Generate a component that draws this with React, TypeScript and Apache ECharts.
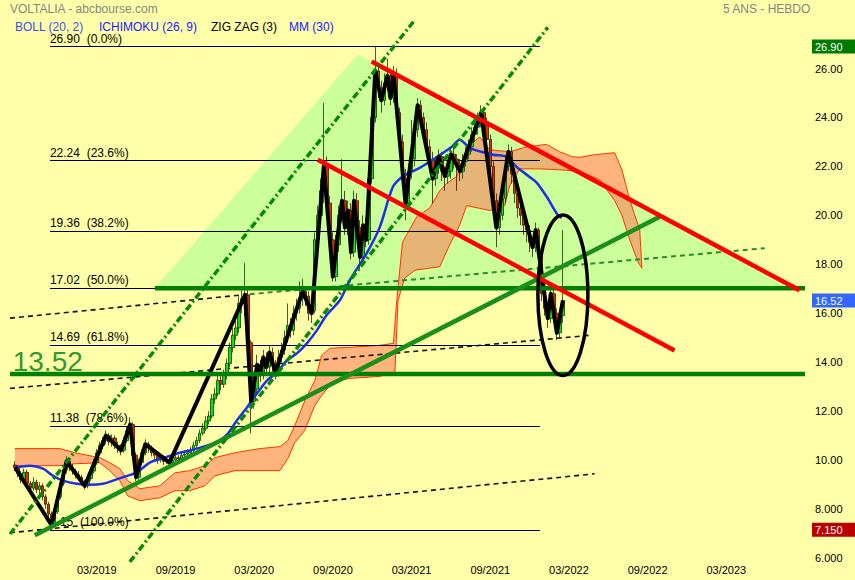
import React, { useEffect, useRef } from "react";
import * as echarts from "echarts";

const FONT = '"Liberation Sans", Arial, sans-serif';

// ---- axes ----
const xTickWeeks = [26, 52, 78, 104, 130, 156, 182, 208, 234];
const xTickLabels = ["03/2019", "09/2019", "03/2020", "09/2020", "03/2021", "09/2021", "03/2022", "09/2022", "03/2023"];
const yTickValues = [6, 8, 10, 12, 14, 16, 18, 20, 22, 24, 26];

// ---- weekly candles (week index from firstWeek) ----
const firstWeek = -1;
const firstOpen = 9.8;
const closes = [
  9.70, 9.45, 9.20, 9.50, 9.05, 8.85, 9.10, 8.80, 8.95, 8.50,
  8.20, 7.80, 7.35, 7.90, 8.50, 9.05, 9.60, 9.95, 9.70, 9.55,
  9.40, 9.30, 9.10, 8.95, 9.25, 9.55, 9.90, 10.30, 10.60, 10.80,
  11.00, 10.75, 10.90, 10.60, 10.50, 10.40, 10.80, 11.20, 11.45, 10.20,
  9.30, 9.90, 10.30, 10.65, 10.50, 10.30, 10.20, 10.00, 10.10, 9.95,
  10.00, 9.90, 10.00, 10.10, 10.05, 10.20, 10.25, 10.30, 10.40, 10.60,
  10.80, 11.10, 11.30, 11.60, 11.80, 12.50, 12.70, 13.25, 13.10, 13.50,
  13.95, 14.60, 15.10, 15.40, 16.40, 16.60, 16.75, 14.80, 12.40, 12.90,
  13.90, 13.50, 14.20, 13.80, 14.40, 13.90, 13.60, 14.20, 14.50, 15.00,
  15.50, 15.30, 16.00, 16.20, 16.60, 16.90, 16.70, 16.00, 16.10, 19.00,
  20.00, 21.00, 22.00, 20.50, 19.00, 17.50, 18.80, 20.00, 20.60, 19.50,
  20.20, 18.50, 20.60, 19.50, 18.30, 19.60, 19.00, 21.50, 24.00, 25.90,
  25.20, 24.70, 25.40, 25.70, 24.80, 25.80, 24.20, 23.00, 21.50, 20.50,
  21.80, 22.30, 23.50, 24.50, 24.00, 23.50, 22.80, 22.30, 21.50, 22.00,
  22.40, 21.80, 21.60, 21.80, 22.50, 22.30, 22.00, 21.80, 22.20, 22.50,
  22.80, 23.30, 23.60, 23.90, 24.20, 23.80, 23.10, 22.00, 20.60, 19.50,
  20.00, 20.70, 22.00, 22.60, 21.70, 20.90, 20.30, 20.00, 19.60, 19.40,
  18.90, 18.70, 19.40, 18.40, 16.80, 16.20, 15.80, 16.80, 16.00, 15.20,
  15.90, 16.52,
];
const lows = [
  9.55, 9.30, 9.05, 9.10, 8.90, 8.60, 8.75, 8.65, 8.60, 8.35,
  8.00, 7.60, 7.15, 7.25, 7.80, 8.40, 8.95, 9.45, 9.55, 9.40,
  9.25, 9.15, 8.95, 8.80, 8.85, 9.15, 9.45, 9.80, 10.20, 10.45,
  10.65, 10.60, 10.55, 10.45, 10.30, 10.20, 10.30, 10.70, 11.05, 10.05,
  9.15, 9.20, 9.80, 10.20, 10.30, 10.15, 10.00, 9.85, 9.90, 9.80,
  9.85, 9.75, 9.80, 9.90, 9.90, 9.95, 10.05, 10.10, 10.15, 10.30,
  10.45, 10.70, 11.00, 11.20, 11.45, 11.70, 12.30, 12.60, 12.85, 12.95,
  13.30, 13.80, 14.40, 14.90, 15.20, 16.00, 15.90, 14.50, 11.10, 12.10,
  12.70, 13.20, 13.30, 13.50, 13.60, 13.60, 13.30, 13.40, 14.00, 14.30,
  14.80, 15.00, 15.10, 15.70, 16.00, 16.30, 16.30, 15.70, 15.60, 16.00,
  18.70, 19.60, 20.50, 20.20, 18.70, 17.30, 17.30, 18.50, 19.70, 19.20,
  19.20, 18.20, 18.30, 19.10, 17.80, 18.10, 18.70, 18.80, 21.30, 23.80,
  24.80, 24.20, 24.50, 25.10, 24.50, 24.60, 23.90, 22.60, 21.20, 19.80,
  20.30, 21.50, 22.00, 23.20, 23.60, 23.10, 22.40, 21.90, 20.50, 21.20,
  21.70, 21.40, 21.00, 21.30, 21.50, 21.90, 21.00, 21.40, 21.50, 22.00,
  22.30, 22.60, 23.00, 23.30, 23.60, 23.40, 22.80, 21.70, 20.20, 18.70,
  19.20, 19.80, 20.50, 21.80, 21.30, 20.50, 19.90, 19.60, 19.20, 18.90,
  18.50, 18.30, 18.50, 18.00, 16.50, 15.90, 15.40, 15.60, 15.70, 14.90,
  15.00, 15.60,
];
const highs = [
  9.95, 9.80, 9.55, 9.65, 9.60, 9.15, 9.30, 9.20, 9.10, 9.05,
  8.60, 8.30, 7.90, 8.05, 8.65, 9.20, 9.75, 10.15, 10.05, 9.85,
  9.65, 9.55, 9.40, 9.20, 9.40, 9.70, 10.05, 10.45, 10.75, 10.95,
  11.20, 11.10, 11.05, 11.00, 10.75, 10.65, 10.95, 11.40, 11.75, 11.55,
  10.30, 10.05, 10.45, 10.85, 10.75, 10.60, 10.40, 10.30, 10.25, 10.20,
  10.15, 10.10, 10.15, 10.25, 10.20, 10.35, 10.40, 10.45, 10.55, 10.75,
  10.95, 11.25, 11.50, 11.80, 12.00, 12.70, 12.95, 13.45, 13.50, 13.70,
  14.15, 14.80, 15.40, 15.70, 16.70, 17.00, 18.05, 17.00, 14.90, 13.40,
  14.30, 14.10, 14.50, 14.40, 14.70, 14.60, 14.10, 14.50, 14.80, 15.30,
  16.40, 15.80, 16.30, 16.60, 17.30, 17.40, 17.10, 16.90, 16.50, 19.30,
  20.40, 21.50, 24.60, 22.40, 20.80, 19.30, 19.20, 20.40, 22.30, 21.00,
  20.60, 20.50, 21.00, 20.90, 19.80, 20.00, 19.90, 21.80, 24.30, 26.90,
  26.20, 25.50, 25.80, 26.40, 26.00, 26.10, 26.00, 24.40, 23.30, 21.90,
  22.10, 23.90, 23.80, 24.80, 24.70, 24.20, 23.80, 23.10, 22.60, 22.40,
  22.70, 22.60, 22.00, 22.10, 22.80, 22.80, 22.50, 22.30, 22.50, 22.80,
  23.10, 23.60, 23.90, 24.20, 24.50, 24.40, 24.00, 23.30, 22.20, 20.90,
  20.40, 21.00, 22.40, 22.90, 22.80, 21.90, 21.10, 20.50, 20.20, 19.90,
  19.60, 19.10, 19.70, 19.50, 18.50, 17.00, 16.40, 17.00, 17.00, 16.20,
  16.10, 19.40,
];

// ---- indicators: [week, price] ----
const zigzag = [
  [-1, 9.7], [11, 7.35], [16, 9.95], [22, 8.95], [29, 11.0], [34, 10.4], [37, 11.45], [39, 9.3],
  [42, 10.65], [50, 9.9], [75, 16.75], [77, 12.4], [79, 13.9], [80, 13.5], [81, 14.2], [82, 13.8],
  [83, 14.4], [85, 13.6], [94, 16.9], [97, 16.0], [101, 22.0], [104, 17.5], [107, 20.6], [108, 19.5],
  [109, 20.2], [110, 18.5], [111, 20.6], [113, 18.3], [114, 19.6], [115, 19.0], [118, 25.9], [120, 24.7],
  [122, 25.7], [123, 24.8], [124, 25.8], [128, 20.5], [132, 24.5], [137, 21.5], [139, 22.4], [141, 21.6],
  [143, 22.5], [146, 21.8], [153, 24.2], [158, 19.5], [162, 22.6], [170, 18.7], [171, 19.4], [175, 15.8],
  [176, 16.8], [178, 15.2], [180, 16.52],
];
const ma30 = [
  [-1.1, 9.69], [3.9, 9.77], [8.2, 9.65], [11.5, 9.36], [14.8, 9.16], [19.4, 9.03], [23.7, 8.99],
  [28.0, 9.03], [31.3, 9.16], [34.6, 9.3], [39.2, 9.5], [43.5, 9.9], [47.8, 10.08], [53.4, 10.3],
  [56.7, 10.39], [62.3, 10.59], [66.6, 10.8], [69.3, 11.08], [72.2, 11.61], [75.6, 12.15], [78.9, 12.72],
  [82.2, 13.25], [85.5, 13.58], [88.8, 14.07], [92.1, 14.36], [95.4, 14.77], [98.7, 15.3], [101.9, 15.92],
  [106.3, 16.53], [109.6, 17.35], [115.2, 18.46], [119.5, 19.52], [123.8, 21.16], [126.8, 21.57],
  [129.4, 21.74], [132.7, 21.94], [137.0, 22.27], [143.3, 22.8], [145.9, 23.09], [149.2, 22.76],
  [156.8, 22.48], [161.4, 22.39], [164.7, 21.98], [169.0, 21.57], [171.4, 21.33], [174.7, 20.75],
  [178.3, 20.02], [179.6, 19.89],
];
const cloudTop = [
  [-1.1, 10.47], [13.8, 10.47], [18.7, 10.3], [27.0, 10.1], [30.3, 9.89], [33.6, 9.65], [36.2, 9.16],
  [40.2, 8.83], [46.8, 8.95], [51.8, 9.48], [56.7, 9.57], [61.7, 9.77], [65.0, 10.1], [71.6, 10.3],
  [79.8, 10.47], [86.5, 10.55], [89.1, 10.8], [91.4, 11.41], [94.7, 12.42], [98.0, 13.25], [100.3, 14.28],
  [103.0, 14.57], [109.6, 14.61], [119.5, 14.69], [124.0, 14.77], [125.1, 16.53], [127.0, 18.9],
  [131.7, 19.94], [136.0, 20.3], [139.3, 21.0], [141.5, 21.3], [145.0, 21.6], [148.2, 22.8], [152.5, 23.2],
  [155.8, 22.68], [162.4, 22.6], [168.0, 22.8], [174.6, 22.9], [178.9, 22.6], [183.0, 22.4], [185.6, 22.37],
  [190.5, 22.48], [197.1, 22.56], [199.5, 21.86], [202.1, 20.63], [205.4, 19.4], [206.1, 17.84],
];
const cloudBottom = [
  [-1.1, 9.77], [13.8, 9.77], [18.7, 9.85], [27.0, 9.89], [30.3, 9.57], [33.6, 9.16], [36.2, 8.54],
  [40.2, 8.34], [46.8, 8.46], [51.8, 8.75], [56.7, 8.75], [61.7, 8.95], [65.0, 9.36], [71.6, 9.57],
  [86.5, 9.57], [89.1, 10.06], [91.4, 10.71], [94.7, 11.21], [98.0, 12.23], [100.3, 12.64], [103.0, 13.05],
  [106.3, 13.25], [109.6, 13.34], [119.5, 13.42], [124.5, 13.59], [125.5, 16.5], [127.7, 17.43],
  [131.1, 17.76], [139.3, 17.9], [142.6, 18.8], [145.9, 19.6], [148.2, 20.4], [152.0, 20.3], [155.8, 20.2],
  [160.8, 20.4], [162.4, 21.2], [165.7, 21.9], [172.3, 21.9], [178.9, 21.86], [185.6, 21.8], [192.2, 21.45],
  [197.1, 20.6], [199.5, 20.0], [202.1, 19.0], [204.8, 18.1], [206.1, 17.84],
];

// ---- Fibonacci retracement ----
const fibLevels = [26.9, 22.24, 19.36, 17.02, 14.69, 11.38, 7.15];
const fibPercents = ["0.0%", "23.6%", "38.2%", "50.0%", "61.8%", "78.6%", "100.0%"];
const fibWeeks = [10.5, 172.4];

// ---- drawings: [week, price] ----
const supportLevel = 13.52;
const lastPrice = 16.52;
const highPrice = 26.9;
const lowPrice = 7.15;
const supportLine = [[-2.7, 13.52], [260, 13.52]];
const neckLine = [[45.2, 17.02], [260, 17.02]];
const fanTriangle = [[45.2, 17.02], [112.2, 26.57], [259.9, 17.02]];
const redLines = [
  [[116.8, 26.29], [258.2, 16.94]],
  [[99.0, 22.27], [216.9, 14.48]],
];
const greenLines = [[[5.5, 6.93], [212.0, 19.94]]];
const dashDotLines = [
  [[-2.7, 6.98], [130.7, 27.93]],
  [[36.9, 5.84], [175.0, 27.68]],
];
const blackDashed = [
  [[-2.7, 15.8], [76.5, 16.78]],
  [[-2.7, 12.93], [188.9, 15.1]],
  [[-2.7, 7.03], [190.5, 9.44]],
];
const greenDashed = [[[76.5, 16.78], [246.7, 18.66]]];
const ellipseCenter = [180, 16.74];
const ellipseRadius = [8.26, 3.28];

function buildOption() {
  const candleData = closes.map((c, i) => [
    firstWeek + i,
    i === 0 ? firstOpen : closes[i - 1],
    c,
    lows[i],
    highs[i],
  ]);

  const lineSeries = (data: number[][], style: any, z: number, clip = true) => ({
    type: "line",
    data,
    symbol: "none",
    silent: true,
    z,
    clip,
    lineStyle: style,
  });

  const polygon = (pts: number[][], style: any, z: number) => ({
    type: "custom",
    silent: true,
    z,
    data: [pts[0]],
    encode: { x: 0, y: 1 },
    renderItem: (_p: any, api: any) => ({
      type: "polygon",
      shape: { points: pts.map((p) => api.coord(p)) },
      style,
    }),
  });

  const series: any[] = [];
  series.push(polygon(fanTriangle, { fill: "#ccff99" }, 1));
  series.push(
    polygon([...cloudTop, ...cloudBottom.slice().reverse()], { fill: "rgba(255,105,80,0.5)" }, 2)
  );
  series.push(lineSeries(cloudTop, { color: "#ff3300", width: 1 }, 3));
  series.push(lineSeries(cloudBottom, { color: "#ff3300", width: 1 }, 3));

  series.push({
    type: "line",
    data: [[fibWeeks[0], fibLevels[0]]],
    symbol: "none",
    silent: true,
    z: 3,
    lineStyle: { width: 0 },
    markLine: {
      silent: true,
      symbol: ["none", "none"],
      animation: false,
      lineStyle: { color: "#000", width: 1, type: "solid" },
      label: {
        show: true,
        position: "insideStartTop",
        distance: [0, 2],
        color: "#000",
        fontSize: 12,
        fontFamily: FONT,
      },
      data: fibLevels.map((v, i) => [
        { coord: [fibWeeks[0], v], label: { formatter: `${v.toFixed(2)}  (${fibPercents[i]})` } },
        { coord: [fibWeeks[1], v] },
      ]),
    },
  });

  blackDashed.forEach((l) =>
    series.push(lineSeries(l, { color: "#111", width: 1.6, type: [5, 4] }, 4))
  );
  greenDashed.forEach((l) =>
    series.push(lineSeries(l, { color: "#2e8b2e", width: 2, type: [5, 4] }, 4))
  );

  series.push({
    type: "candlestick",
    data: candleData,
    encode: { x: 0, y: [1, 2, 3, 4] },
    barWidth: 3,
    silent: true,
    z: 5,
    itemStyle: {
      color: "#11dd11",
      color0: "#cc3300",
      borderColor: "#0b3d0b",
      borderColor0: "#3d1505",
      borderWidth: 0.8,
    },
  });

  series.push({
    ...lineSeries(ma30, { color: "#1f2fe8", width: 2.5 }, 6),
    smooth: 0.3,
  });
  series.push(lineSeries(zigzag, { color: "#000", width: 4, join: "round" }, 7));

  series.push(lineSeries(neckLine, { color: "#008000", width: 4.5 }, 8));
  series.push(lineSeries(supportLine, { color: "#008000", width: 4.5 }, 8));
  greenLines.forEach((l) => series.push(lineSeries(l, { color: "#1a8f1a", width: 4.5 }, 8)));
  redLines.forEach((l) => series.push(lineSeries(l, { color: "#ff0000", width: 4.5 }, 8)));
  dashDotLines.forEach((l) =>
    series.push(lineSeries(l, { color: "#068a06", width: 3.5, type: [7, 3, 2, 3] }, 8, false))
  );

  series.push({
    type: "custom",
    silent: true,
    z: 9,
    data: [ellipseCenter],
    encode: { x: 0, y: 1 },
    renderItem: (_p: any, api: any) => {
      const c = api.coord(ellipseCenter);
      const s = api.size(ellipseRadius);
      return {
        type: "ellipse",
        shape: { cx: c[0], cy: c[1], rx: s[0], ry: s[1] },
        style: { fill: "none", stroke: "#000", lineWidth: 3.5 },
      };
    },
  });

  series.push({
    type: "custom",
    silent: true,
    z: 9,
    data: [[-1.8, supportLevel]],
    encode: { x: 0, y: 1 },
    renderItem: (_p: any, api: any) => {
      const c = api.coord([api.value(0), api.value(1)]);
      return {
        type: "text",
        x: c[0],
        y: c[1] - 12,
        style: {
          text: supportLevel.toFixed(2),
          fill: "#2f9a2f",
          fontSize: 28,
          fontFamily: FONT,
          align: "left",
          verticalAlign: "middle",
        },
      };
    },
  });

  series.push({
    type: "line",
    data: [[fibWeeks[0], fibLevels[0]]],
    symbol: "none",
    silent: true,
    z: 10,
    lineStyle: { width: 0 },
    markLine: {
      silent: true,
      symbol: ["none", "none"],
      animation: false,
      lineStyle: { color: "rgba(0,0,0,0)", width: 0 },
      label: {
        show: true,
        position: "end",
        distance: 7,
        color: "#fff",
        fontSize: 11,
        fontFamily: FONT,
        padding: [2, 14, 1, 3],
      },
      data: [
        { yAxis: highPrice, label: { backgroundColor: "#007a00", formatter: highPrice.toFixed(2) } },
        { yAxis: lastPrice, label: { backgroundColor: "#3366ff", formatter: lastPrice.toFixed(2) } },
        { yAxis: lowPrice, label: { backgroundColor: "#bb0000", formatter: lowPrice.toFixed(3) } },
      ],
    },
  });

  return {
    animation: false,
    backgroundColor: "#ffffaa",
    grid: { left: 0, right: 50, top: 0, bottom: 22, containLabel: false },
    xAxis: {
      type: "value",
      min: -6,
      max: 260,
      axisLine: { show: false },
      axisTick: { show: false },
      splitLine: { show: false },
      axisLabel: {
        customValues: xTickWeeks,
        margin: 6,
        color: "#000",
        fontSize: 11,
        fontFamily: FONT,
        formatter: (v: number) => {
          const i = xTickWeeks.indexOf(Math.round(v));
          return i >= 0 ? xTickLabels[i] : "";
        },
      },
    },
    yAxis: {
      type: "value",
      position: "right",
      min: 6,
      max: 28.8,
      axisLine: { show: false },
      axisTick: { show: false },
      splitLine: { show: false },
      axisLabel: {
        customValues: yTickValues,
        margin: 10,
        color: "#000",
        fontSize: 11,
        fontFamily: FONT,
        padding: [0, 0, 4, 0],
        formatter: (v: number) => (v >= 10 ? v.toFixed(2) : v.toFixed(3)),
      },
    },
    graphic: [
      { type: "text", x: 10, y: 9, style: { text: "VOLTALIA - abcbourse.com", fill: "#858585", fontSize: 12, fontFamily: FONT, verticalAlign: "middle" } },
      { type: "text", x: 723, y: 9, style: { text: "5 ANS - HEBDO", fill: "#858585", fontSize: 12, fontFamily: FONT, verticalAlign: "middle" } },
      { type: "text", x: 15, y: 27, style: { text: "BOLL (20, 2)", fill: "#3a4fe6", fontSize: 12, fontFamily: FONT, verticalAlign: "middle" } },
      { type: "text", x: 99, y: 27, style: { text: "ICHIMOKU (26, 9)", fill: "#1a1aff", fontSize: 12, fontFamily: FONT, verticalAlign: "middle" } },
      { type: "text", x: 211, y: 27, style: { text: "ZIG ZAG (3)", fill: "#000", fontSize: 12, fontFamily: FONT, verticalAlign: "middle" } },
      { type: "text", x: 289, y: 27, style: { text: "MM (30)", fill: "#1a1aff", fontSize: 12, fontFamily: FONT, verticalAlign: "middle" } },
    ],
    series,
  };
}

export default function App() {
  const ref = useRef<HTMLDivElement>(null);
  useEffect(() => {
    if (!ref.current) return;
    const chart = echarts.init(ref.current, null, { renderer: "svg" });
    chart.setOption(buildOption() as any);
    return () => chart.dispose();
  }, []);
  return (
    <div
      ref={ref}
      style={{ position: "fixed", left: 0, top: 0, width: 855, height: 580 }}
    />
  );
}
